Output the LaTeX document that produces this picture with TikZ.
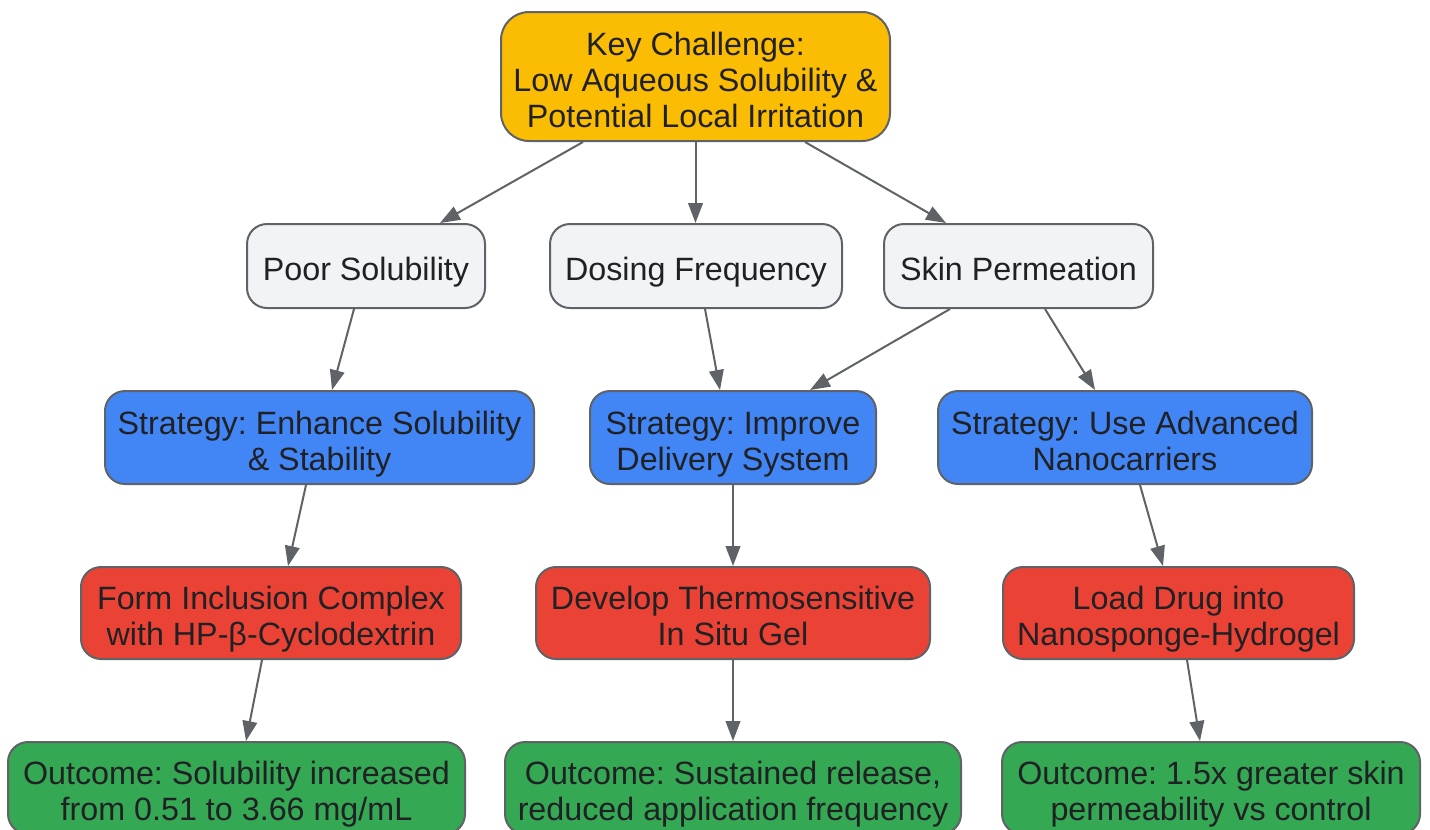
\documentclass[tikz,border=0pt]{standalone}
\usepackage{fontspec}
\setmainfont{Liberation Sans}
\usetikzlibrary{arrows.meta,calc}
\definecolor{edgec}{HTML}{5F6368}
\definecolor{txt}{HTML}{202124}
\definecolor{yel}{HTML}{FBBC04}
\definecolor{lgray}{HTML}{F1F3F4}
\definecolor{gblue}{HTML}{4285F4}
\definecolor{gred}{HTML}{EA4335}
\definecolor{ggreen}{HTML}{34A853}
\newcommand\ls{\rule[-0.215em]{0pt}{1.335em}}
\frenchspacing
\lineskiplimit=-100pt
\begin{document}
\begin{tikzpicture}[x=0.75pt,y=-0.75pt,
  box/.style={draw=edgec, line width=1.5pt, rounded corners=15pt, inner sep=0pt, align=center, text=txt, font=\fontsize{24.2}{27}\selectfont},
  lvlA/.style={box, fill=lgray, minimum height=63pt},
  lvlB/.style={box, fill=gblue, minimum height=69.75pt},
  lvlC/.style={box, fill=gred, minimum height=69pt},
  lvlD/.style={box, fill=ggreen, minimum height=69pt},
  arr/.style={draw=edgec, line width=1.5pt, -{Triangle[length=15pt,width=11pt]}}]
\useasboundingbox (0,0) rectangle (1430,829);
\begin{scope}
\clip (0,0) rectangle (1430,829);
\node[box, fill=yel, minimum width=291.75pt, minimum height=96.75pt, rounded corners=21pt] (key) at (695.5,76.5) {\ls Key Challenge:\\\ls Low Aqueous Solubility \&\\\ls Potential Local Irritation};
\node[lvlA, minimum width=178.5pt] (poor) at (366,266) {\ls Poor Solubility};
\node[lvlA, minimum width=219pt] (dose) at (696,266) {\ls Dosing Frequency};
\node[lvlA, minimum width=201.75pt] (skin) at (1018.5,266) {\ls Skin Permeation};
\node[lvlB, minimum width=321.75pt] (s1) at (319.5,437.5) {\ls Strategy: Enhance Solubility\\\ls \& Stability};
\node[lvlB, minimum width=214.5pt] (s2) at (733,437.5) {\ls Strategy: Improve\\\ls Delivery System};
\node[lvlB, minimum width=280.5pt] (s3) at (1125,437.5) {\ls Strategy: Use Advanced\\\ls Nanocarriers};
\node[lvlC, minimum width=285pt] (form) at (271,613) {\ls Form Inclusion Complex\\\ls with HP-β-Cyclodextrin};
\node[lvlC, minimum width=295.5pt] (dev) at (733,613) {\ls Develop Thermosensitive\\\ls In Situ Gel};
\node[lvlC, minimum width=263.25pt] (load) at (1178.5,613) {\ls Load Drug into\\\ls Nanosponge-Hydrogel};
\node[lvlD, minimum width=342.75pt] (o1) at (236.5,788) {\ls Outcome: Solubility increased\\\ls from 0.51 to 3.66 mg/mL};
\node[lvlD, minimum width=342pt] (o2) at (733,788) {\ls Outcome: Sustained release,\\\ls reduced application frequency};
\node[lvlD, minimum width=313.5pt] (o3) at (1211,788) {\ls Outcome: 1.5x greater skin\\\ls permeability vs control};
\end{scope}
\draw[arr] ($(key.south)+(-112.5,0)$) -- ($(poor.north)+(74,0)$);
\draw[arr] (key.south) -- (key.south |- dose.north);
\draw[arr] ($(key.south)+(109.5,0)$) -- ($(skin.north)+(-72.5,0)$);
\draw[arr] ($(poor.south)+(-12,0)$) -- ($(s1.north)+(12.5,0)$);
\draw[arr] ($(dose.south)+(9,0)$) -- ($(s2.north)+(-13,0)$);
\draw[arr] ($(skin.south)+(-68.5,0)$) -- ($(s2.north)+(77,0)$);
\draw[arr] ($(skin.south)+(26.5,0)$) -- ($(s3.north)+(-30,0)$);
\draw[arr] ($(s1.south)+(-13.5,0)$) -- ($(form.north)+(17,0)$);
\draw[arr] (s2.south) -- (dev.north);
\draw[arr] ($(s3.south)+(15,0)$) -- ($(load.north)+(-15.5,0)$);
\draw[arr] ($(form.south)+(-9,0)$) -- ($(o1.north)+(9.5,0)$);
\draw[arr] (dev.south) -- (o2.north);
\draw[arr] ($(load.south)+(8.5,0)$) -- ($(o3.north)+(-11,0)$);
\end{tikzpicture}
\end{document}
